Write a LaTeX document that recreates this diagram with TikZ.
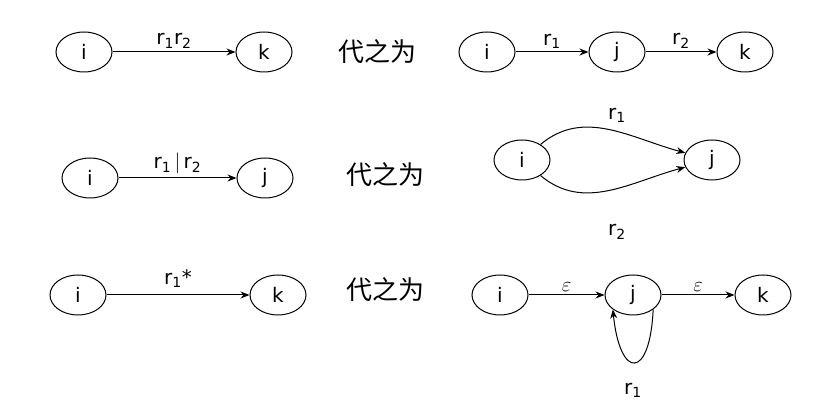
\documentclass[tikz,border=0pt]{standalone}
\usepackage{fontspec}
\setmainfont{DejaVu Sans}
\newfontfamily\cjk{Noto Sans CJK SC}
\usetikzlibrary{shapes.geometric,arrows.meta}
\begin{document}
\begin{tikzpicture}[x=1pt,y=-1pt,
 st/.style={draw,ellipse,minimum width=56pt,minimum height=40pt,inner sep=0pt,font=\fontsize{20}{22}\selectfont,line width=1pt},
 lab/.style={font=\fontsize{20}{22}\selectfont},
 cn/.style={font=\cjk\fontsize{26}{28}\selectfont},
 ar/.style={-{Stealth[length=9pt,width=7pt]},line width=1pt}]
\useasboundingbox (0,0) rectangle (839,411);
\newcommand{\rr}[1]{r\textsubscript{#1}}
% row 1
\node[st] (a1) at (84,52) {i};
\node[st] (a2) at (264,52) {k};
\draw[ar] (a1) -- node[lab,above]{\rr{1}\rr{2}} (a2);
\node[cn] (t1) at (377,52) {代之为};
\node[st] (b1) at (487,52) {i};
\node[st] (b2) at (617,52) {j};
\node[st] (b3) at (745,52) {k};
\draw[ar] (b1) -- node[lab,above]{\rr{1}} (b2);
\draw[ar] (b2) -- node[lab,above]{\rr{2}} (b3);
% row 2
\node[st] (c1) at (90,178) {i};
\node[st] (c2) at (265,178) {j};
\draw[ar] (c1) -- node[lab,above]{\rr{1}\,$|$\,\rr{2}} (c2);
\node[cn] (t2) at (385,175) {代之为};
\node[st] (d1) at (522,160) {i};
\node[st] (d2) at (712,160) {j};
\draw[ar] (d1) to[out=40,in=165] (d2);
\draw[ar] (d1) to[out=-40,in=-165] (d2);
\node[lab] (l1) at (617,115) {\rr{1}};
\node[lab] (l2) at (617,232) {\rr{2}};
% row 3
\node[st] (e1) at (78,295) {i};
\node[st] (e2) at (278,295) {k};
\draw[ar] (e1) -- node[lab,above=4pt]{\rr{1}*} (e2);
\node[cn] (t3) at (385,290) {代之为};
\node[st] (f1) at (500,295) {i};
\node[st] (f2) at (633,295) {j};
\node[st] (f3) at (763,295) {k};
\draw[ar] (f1) -- node[lab,above]{$\varepsilon$} (f2);
\draw[ar] (f2) -- node[lab,above]{$\varepsilon$} (f3);
\draw[ar] (f2.south east) .. controls (650,380) and (620,380) .. (f2.south west);
\node[lab] (l3) at (633,390) {\rr{1}};
\end{tikzpicture}
\end{document}
